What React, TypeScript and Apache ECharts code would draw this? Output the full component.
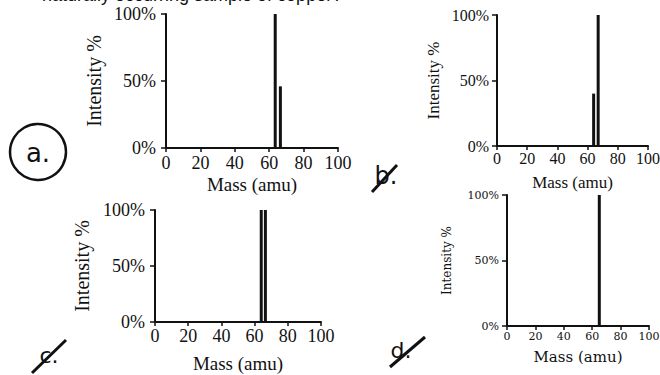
import React, { useEffect, useRef } from "react";
import * as echarts from "echarts";

const massA = [63.5, 66.5];
const intensityA = [100, 46];
const massB = [64, 67];
const intensityB = [40, 100];
const massC = [64, 66.5];
const intensityC = [100, 100];
const massD = [65];
const intensityD = [100];

const titleText = "naturally occurring sample of copper?";
const xName = "Mass (amu)";
const yName = "Intensity %";

type Panel = {
  mass: number[];
  inten: number[];
  grid: { left: number; top: number; width: number; height: number };
  font: string;
  tickSize: number;
  nameSize: number;
  yNameSize: number;
  xLabelMargin: number;
  yLabelMargin: number;
  xNameGap: number;
  yNameGap: number;
};

const panels: Panel[] = [
  {
    mass: massA, inten: intensityA,
    grid: { left: 166, top: 14, width: 172, height: 134 },
    font: "Liberation Serif", tickSize: 18, nameSize: 19, yNameSize: 20,
    xLabelMargin: 6, yLabelMargin: 10, xNameGap: 27, yNameGap: 62,
  },
  {
    mass: massB, inten: intensityB,
    grid: { left: 497, top: 15, width: 151, height: 131 },
    font: "Liberation Serif", tickSize: 16, nameSize: 17, yNameSize: 17,
    xLabelMargin: 4, yLabelMargin: 8, xNameGap: 28, yNameGap: 55,
  },
  {
    mass: massC, inten: intensityC,
    grid: { left: 155, top: 210, width: 166, height: 112 },
    font: "Liberation Serif", tickSize: 18, nameSize: 19, yNameSize: 20,
    xLabelMargin: 5, yLabelMargin: 10, xNameGap: 32, yNameGap: 63,
  },
  {
    mass: massD, inten: intensityD,
    grid: { left: 507, top: 195, width: 142, height: 131 },
    font: "DejaVu Serif", tickSize: 11, nameSize: 15, yNameSize: 12,
    xLabelMargin: 5, yLabelMargin: 8, xNameGap: 23, yNameGap: 54,
  },
];

export default function App() {
  const ref = useRef<HTMLDivElement>(null);
  useEffect(() => {
    if (!ref.current) return;
    const chart = echarts.init(ref.current, undefined, { renderer: "svg" });
    const ink = "#111";
    const option: any = {
      animation: false,
      backgroundColor: "#fff",
      grid: panels.map((p) => ({ ...p.grid, containLabel: false, outerBoundsMode: "none" })),
      xAxis: panels.map((p, i) => ({
        type: "value",
        gridIndex: i,
        min: 0,
        max: 100,
        interval: 20,
        splitLine: { show: false },
        axisLine: { lineStyle: { color: ink, width: 2 } },
        axisTick: { show: true, length: 4, lineStyle: { color: ink, width: 1.5 } },
        axisLabel: { color: ink, fontFamily: p.font, fontSize: p.tickSize, margin: p.xLabelMargin },
        name: xName,
        nameLocation: "middle",
        nameGap: p.xNameGap,
        nameTextStyle: { color: ink, fontFamily: p.font, fontSize: p.nameSize },
      })),
      yAxis: panels.map((p, i) => ({
        type: "value",
        gridIndex: i,
        min: 0,
        max: 100,
        interval: 50,
        splitLine: { show: false },
        axisLine: { show: true, lineStyle: { color: ink, width: 2 } },
        axisTick: { show: true, length: 5, lineStyle: { color: ink, width: 1.5 } },
        axisLabel: {
          color: ink, fontFamily: p.font, fontSize: p.tickSize, margin: p.yLabelMargin,
          formatter: "{value}%",
        },
        name: yName,
        nameLocation: "middle",
        nameGap: p.yNameGap,
        nameRotate: 90,
        nameTextStyle: { color: ink, fontFamily: p.font, fontSize: p.yNameSize },
      })),
      series: panels.map((p, i) => ({
        type: "bar",
        xAxisIndex: i,
        yAxisIndex: i,
        barWidth: 3,
        itemStyle: { color: ink },
        data: p.mass.map((m, k) => [m, p.inten[k]]),
      })),
      graphic: [
        {
          type: "text", left: 42, top: -14,
          style: { text: titleText, fill: ink, font: "18px 'Liberation Sans'" },
        },
        {
          type: "circle", shape: { cx: 38, cy: 152, r: 28 },
          style: { fill: "none", stroke: ink, lineWidth: 2.5 },
        },
        {
          type: "text", x: 38, y: 153,
          style: { text: "a.", fill: ink, font: "26px 'DejaVu Sans'", align: "center", verticalAlign: "middle" },
        },
        {
          type: "text", x: 386, y: 176,
          style: { text: "b.", fill: ink, font: "24px 'DejaVu Sans'", align: "center", verticalAlign: "middle" },
        },
        {
          type: "line", shape: { x1: 372, y1: 192, x2: 397, y2: 165 },
          style: { stroke: ink, lineWidth: 3 },
        },
        {
          type: "text", x: 49, y: 355,
          style: { text: "c.", fill: ink, font: "22px 'DejaVu Sans'", align: "center", verticalAlign: "middle" },
        },
        {
          type: "line", shape: { x1: 32, y1: 373, x2: 66, y2: 340 },
          style: { stroke: ink, lineWidth: 3 },
        },
        {
          type: "text", x: 401, y: 350,
          style: { text: "d.", fill: ink, font: "22px 'DejaVu Sans'", align: "center", verticalAlign: "middle" },
        },
        {
          type: "line", shape: { x1: 390, y1: 367, x2: 425, y2: 337 },
          style: { stroke: ink, lineWidth: 3 },
        },
      ],
    };
    chart.setOption(option);
    return () => chart.dispose();
  }, []);
  return (
    <div
      ref={ref}
      style={{ position: "absolute", left: 0, top: 0, width: 660, height: 375 }}
    />
  );
}
